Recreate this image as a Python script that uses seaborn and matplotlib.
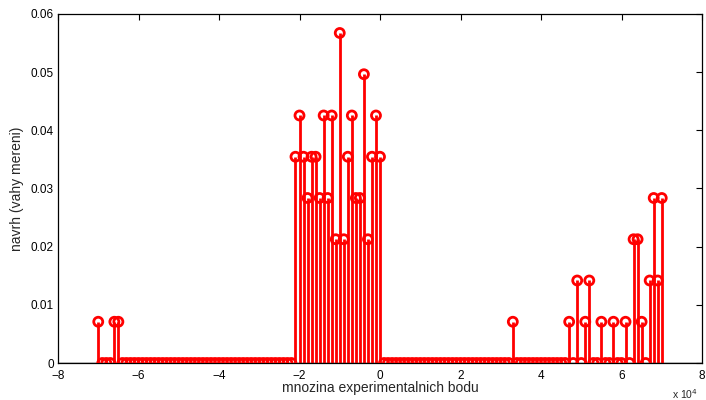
import numpy as np
import pandas as pd
import matplotlib
matplotlib.use("Agg")
import matplotlib.pyplot as plt
import seaborn as sns

# experimental point grid (x in units of 1e4)
grid_x = np.round(np.linspace(-7.0, 7.0, 141), 1)

# design support points and their replication counts (weights = count / total)
support_x = [-7.0, -6.6, -6.5,
             -2.1, -2.0, -1.9, -1.8, -1.7, -1.6, -1.5, -1.4, -1.3, -1.2, -1.1,
             -1.0, -0.9, -0.8, -0.7, -0.6, -0.5, -0.4, -0.3, -0.2, -0.1, 0.0,
             3.3, 4.7, 4.9, 5.1, 5.2, 5.5, 5.8, 6.1, 6.3, 6.4, 6.5, 6.7, 6.8, 6.9, 7.0]
support_k = [1, 1, 1,
             5, 6, 5, 4, 5, 5, 4, 6, 4, 6, 3,
             8, 3, 5, 6, 4, 4, 7, 3, 5, 6, 5,
             1, 1, 2, 1, 2, 1, 1, 1, 3, 3, 1, 2, 4, 2, 4]

xticks = [-8, -6, -4, -2, 0, 2, 4, 6, 8]
xtick_labels = ["\u22128", "\u22126", "\u22124", "\u22122", "0", "2", "4", "6", "8"]
yticks = [0, 0.01, 0.02, 0.03, 0.04, 0.05, 0.06]
ytick_labels = ["0", "0.01", "0.02", "0.03", "0.04", "0.05", "0.06"]

total = sum(support_k)
kmap = dict(zip(support_x, support_k))
weights = [kmap.get(float(x), 0) / total for x in grid_x]
df = pd.DataFrame({"x": grid_x, "w": weights})

sns.set_style("white")
plt.rcParams["font.family"] = ["Liberation Sans", "DejaVu Sans"]

fig = plt.figure(figsize=(7.06, 4.0), dpi=100)
ax = fig.add_axes([58 / 706, 1 - 363 / 400, 644 / 706, 349 / 400])

red = "#ff0000"
ax.vlines(df["x"], 0, df["w"], color=red, lw=2.0, zorder=2)
sns.scatterplot(data=df, x="x", y="w", ax=ax, marker="o", s=42,
                facecolors="none", edgecolor=red, linewidth=2.0, zorder=3,
                legend=False)
ax.axhline(0, color="black", lw=1.0, zorder=1)

ax.set_xlim(-8, 8)
ax.set_ylim(0, 0.06)
ax.set_xticks(xticks)
ax.set_xticklabels(xtick_labels)
ax.set_yticks(yticks)
ax.set_yticklabels(ytick_labels)
ax.tick_params(direction="in", length=4, width=0.8, labelsize=8.5,
               top=True, right=True, colors="black")
ax.tick_params(axis="x", pad=5)
ax.tick_params(axis="y", pad=3)
for s in ax.spines.values():
    s.set_visible(True)
    s.set_color("black")
    s.set_linewidth(0.9)

ax.set_xlabel("mnozina experimentalnich bodu", fontsize=10, labelpad=-1)
ax.set_ylabel("navrh (vahy mereni)", fontsize=10, labelpad=5)
fig.text(698 / 706, 1 - 394 / 400, r"x 10$^{4}$", fontsize=7.5, va="center",
         ha="right")

fig.savefig("out.png", dpi=100)
